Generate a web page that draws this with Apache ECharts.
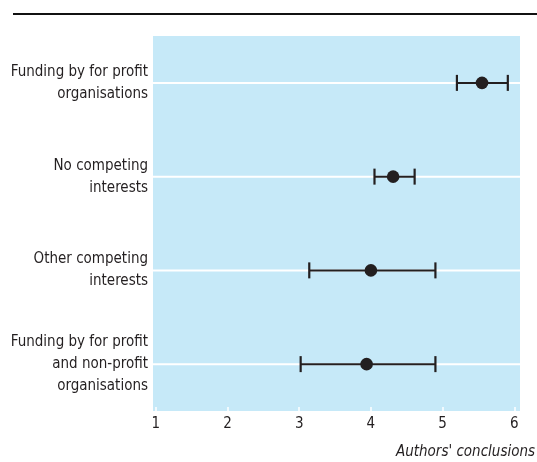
<!DOCTYPE html>
<html><head><meta charset="utf-8">
<script src="https://cdn.jsdelivr.net/npm/echarts@6/dist/echarts.min.js"></script>
<style>html,body{margin:0;padding:0;background:#fff}#c{width:537px;height:462px}</style>
</head><body><div id="c"></div>
<script>
var categories = ["Funding by for profit\norganisations", "No competing\ninterests", "Other competing\ninterests", "Funding by for profit\nand non-profit\norganisations"];
var means = [5.55, 4.31, 4.0, 3.94];
var lower = [5.2, 4.05, 3.14, 3.02];
var upper = [5.91, 4.61, 4.9, 4.9];
var xTicks = [1, 2, 3, 4, 5, 6];

var FONT = "'Liberation Sans Narrow','DejaVu Sans Condensed',sans-serif";
var INK = '#231f20';
var chart = echarts.init(document.getElementById('c'), null, {renderer: 'canvas'});
var data = categories.map(function (c, i) { return [i, means[i], lower[i], upper[i]]; });
chart.setOption({
  animation: false,
  grid: {left: 153, right: 17, top: 36, bottom: 51, show: true, backgroundColor: '#c6e9f8', borderWidth: 0},
  graphic: [{
    type: 'line', shape: {x1: 13, y1: 14, x2: 537, y2: 14},
    style: {stroke: '#111', lineWidth: 2}
  }],
  title: {
    text: "Authors' conclusions", right: 2, bottom: 2, padding: 0,
    textStyle: {fontFamily: FONT, fontStyle: 'italic', fontWeight: 'normal', fontSize: 15, color: INK}
  },
  xAxis: {
    type: 'value', min: 0.96, max: 6.08, interval: 1,
    axisLine: {show: false},
    splitLine: {show: false},
    axisLabel: {
      fontFamily: FONT, fontSize: 15, color: INK, margin: 6,
      customValues: xTicks,
      formatter: function (v) { return String(Math.round(v)); }
    },
    axisTick: {show: true, inside: true, length: 4, lineStyle: {color: '#fff', width: 1.5}, customValues: xTicks}
  },
  yAxis: {
    type: 'category', data: categories, inverse: true,
    axisLine: {show: false}, axisTick: {show: false}, splitLine: {show: false},
    axisLabel: {fontFamily: FONT, fontSize: 15, color: INK, lineHeight: 22, margin: 5, align: 'right', padding: [4, 0, 0, 0]}
  },
  series: [{
    type: 'custom',
    data: data,
    encode: {x: [1, 2, 3], y: 0},
    renderItem: function (params, api) {
      var cs = params.coordSys;
      var idx = api.value(0);
      var c = api.coord([api.value(1), idx]);
      var lo = api.coord([api.value(2), idx]);
      var hi = api.coord([api.value(3), idx]);
      var y = c[1];
      var capH = 8;
      return {
        type: 'group',
        children: [
          {type: 'line', shape: {x1: cs.x, y1: y, x2: cs.x + cs.width, y2: y}, style: {stroke: '#fff', lineWidth: 2}},
          {type: 'line', shape: {x1: lo[0], y1: y, x2: hi[0], y2: y}, style: {stroke: INK, lineWidth: 2}},
          {type: 'line', shape: {x1: lo[0], y1: y - capH, x2: lo[0], y2: y + capH}, style: {stroke: INK, lineWidth: 2.2}},
          {type: 'line', shape: {x1: hi[0], y1: y - capH, x2: hi[0], y2: y + capH}, style: {stroke: INK, lineWidth: 2.2}},
          {type: 'circle', shape: {cx: c[0], cy: y, r: 6.3}, style: {fill: INK}}
        ]
      };
    }
  }]
});
</script></body></html>
